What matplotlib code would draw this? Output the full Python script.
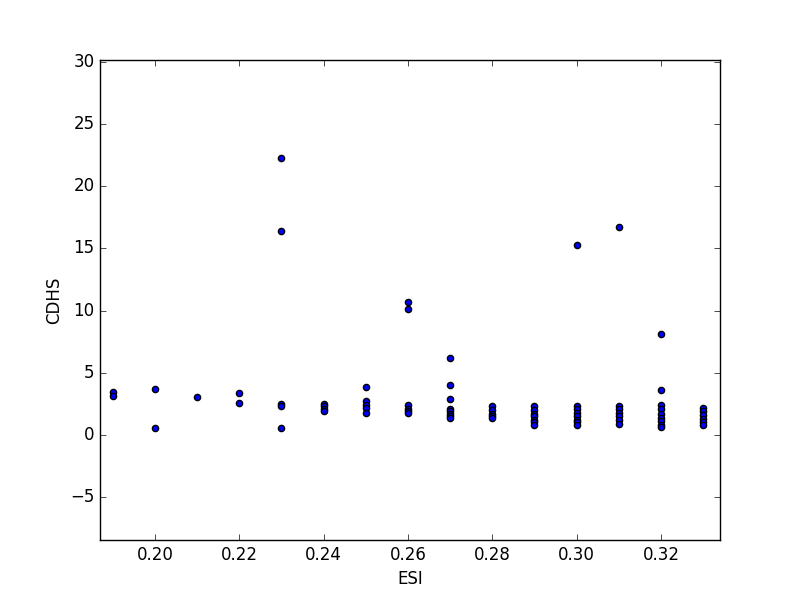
import matplotlib
matplotlib.use("Agg")
import matplotlib.pyplot as plt

plt.style.use('classic')

esi_groups = [0.19, 0.20, 0.21, 0.22, 0.23, 0.24, 0.25, 0.26, 0.27, 0.28, 0.29, 0.30, 0.31, 0.32, 0.33]
cdhs_groups = [
    [3.45, 3.1],
    [3.7, 0.56],
    [3.05],
    [3.4, 2.55],
    [22.3, 16.4, 2.45, 2.3, 0.54],
    [2.5, 2.3, 2.1, 1.9],
    [3.85, 2.7, 2.4, 2.15, 1.8],
    [10.7, 10.1, 2.4, 2.1, 1.9, 1.75],
    [6.2, 4.0, 2.9, 2.1, 1.9, 1.7, 1.5, 1.4],
    [2.3, 2.0, 1.7, 1.5, 1.35],
    [2.3, 2.0, 1.7, 1.5, 1.2, 1.0, 0.8],
    [15.3, 2.35, 2.1, 1.8, 1.5, 1.2, 1.0, 0.8],
    [16.7, 2.3, 2.1, 1.8, 1.5, 1.2, 0.9],
    [8.1, 3.6, 2.4, 2.1, 1.7, 1.4, 1.1, 0.8, 0.6],
    [2.2, 1.9, 1.6, 1.3, 1.0, 0.8],
]

xs, ys = [], []
for e, vals in zip(esi_groups, cdhs_groups):
    for v in vals:
        xs.append(e)
        ys.append(v)

fig = plt.figure(figsize=(8, 6), dpi=100)
fig.patch.set_facecolor('white')
ax = fig.add_subplot(111)
ax.scatter(xs, ys, c='b', s=20, edgecolors='k')
ax.set_xlim(0.187, 0.334)
ax.set_ylim(-8.45, 30.15)
ax.set_xticks([0.20, 0.22, 0.24, 0.26, 0.28, 0.30, 0.32])
ax.set_yticks([-5, 0, 5, 10, 15, 20, 25, 30])
ax.set_xlabel('ESI')
ax.set_ylabel('CDHS')
fig.savefig('out.png', dpi=100, facecolor='white')
